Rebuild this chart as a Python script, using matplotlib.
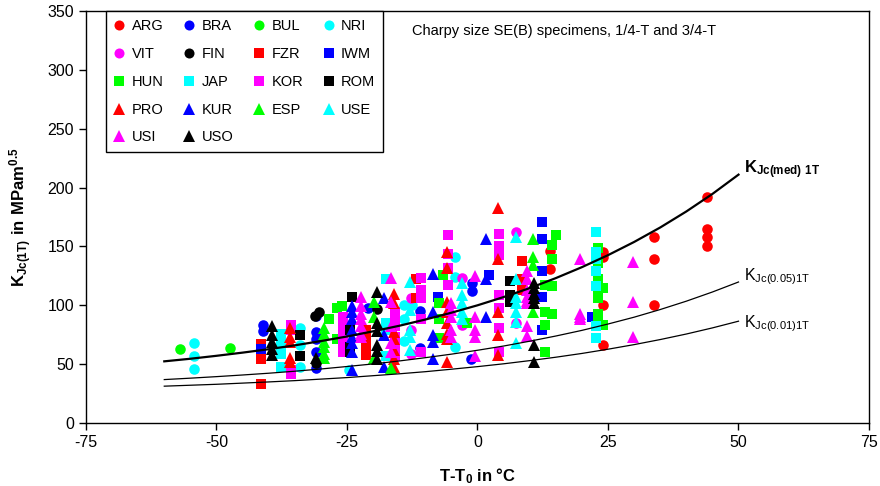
import matplotlib
matplotlib.use("Agg")
import matplotlib.pyplot as plt

plt.rcParams["font.family"] = ["Liberation Sans", "DejaVu Sans"]
plt.rcParams["mathtext.fontset"] = "custom"
plt.rcParams["mathtext.rm"] = "Liberation Sans"
plt.rcParams["mathtext.bf"] = "Liberation Sans:bold"
plt.rcParams["mathtext.default"] = "regular"
plt.rcParams["axes.unicode_minus"] = False

# master curves
curve_t = [-60, -55, -50, -45, -40, -35, -30, -25, -20, -15, -10, -5, 0,
           5, 10, 15, 20, 25, 30, 35, 40, 45, 50]
k_med = [52.4, 54.6, 57.1, 59.8, 62.7, 66.0, 69.6, 73.5, 77.9, 82.6, 87.9, 93.7, 100.0,
         107.0, 114.6, 123.1, 132.4, 142.6, 153.8, 166.1, 179.7, 194.6, 211.0]
k_05 = [36.9, 38.1, 39.4, 40.8, 42.3, 44.0, 45.9, 48.0, 50.2, 52.7, 55.5, 58.5, 61.8,
        65.4, 69.5, 73.9, 78.7, 84.1, 89.9, 96.4, 103.5, 111.3, 119.8]
k_01 = [31.3, 32.1, 32.9, 33.9, 34.9, 36.0, 37.3, 38.6, 40.2, 41.8, 43.6, 45.7, 47.9,
        50.3, 53.0, 55.9, 59.1, 62.7, 66.6, 70.9, 75.6, 80.8, 86.5]

# lab data, T-T0 and KJc(1T)
arg_t = [13.8, 13.8, 24, 24, 24, 24, 33.8, 33.8, 33.8, 44, 44, 44, 44]
arg_k = [146, 131, 145, 141, 100, 66, 158, 139, 100, 192, 165, 158, 150]
bra_t = [-41, -41, -31, -31, -31, -31, -31, -21, -11, -11, -1, -1, -1.2]
bra_k = [83, 78, 91, 77, 71, 60, 47, 98, 95, 64, 119, 112, 54]
bul_t = [-57, -47.5]
bul_k = [63, 64]
nri_t = [-54.4, -54.4, -54.4, -34, -34, -34, -24.6, -14, -14, -14, -12.5, -4.3, -4.3, -4.3]
nri_k = [68, 57, 46, 81, 66, 48, 45, 100, 88, 70, 100, 141, 124, 65]
vit_t = [-12.7, -12.7, -12.7, -2.9, -2.9, 7.3, 7.3]
vit_k = [106, 79, 59, 123, 83, 162, 85]
fin_t = [-30.4, -31.2, -31, -19.2]
fin_k = [94, 91, 51, 97]
fzr_t = [-41.5, -41.5, -41.5, -21.4, -21.4, -21.4, -21.4, -11.7, -11.7, 8.5, 8.5, 8.5]
fzr_k = [67, 54, 33, 79, 71, 65, 58, 122, 106, 138, 122, 113]
iwm_t = [-41.5, -7.5, 2.2, 12.4, 12.4, 12.4, 12.4, 12.4, 22]
iwm_k = [63, 107, 126, 171, 156, 129, 107, 79, 90]
hun_t = [-28.5, -27, -26, -27, -7.3, -7.3, -7.3, -6.7, -2, 13, 13, 13, 13,
         14.2, 14.2, 14.2, 14.2, 15, 23, 23, 23, 23, 23, 23, 23, 23, 24, 24]
hun_k = [88, 98, 99, 71, 102, 88, 72, 126, 85, 117, 94, 83, 60,
         151, 139, 116, 93, 160, 149, 136, 122, 113, 106, 93, 88, 83, 115, 83]
jap_t = [-37.7, -37.7, -37.7, -37.7, -37.7, -17.5, -17.5, -17.5, -17.5,
         22.7, 22.7, 22.7, 22.7, 22.7, 22.7, 22.7, 22.7]
jap_k = [76, 71, 65, 59, 48, 122, 85, 79, 57, 162, 145, 141, 139, 129, 116, 82, 72]
kor_t = [-35.8, -35.8, -35.8, -35.8, -25.8, -25.8, -25.8, -25.8, -25.8, -25.8,
         -15.8, -15.8, -15.8, -15.8, -15.8, -15.8, -10.8, -10.8, -10.8, -10.8, -10.8,
         -5.7, -5.7, -5.7, -5.7, 4.2, 4.2, 4.2, 4.2, 4.2, 4.2, 4.2]
kor_k = [83, 79, 45, 42, 90, 84, 78, 72, 66, 60,
         94, 88, 82, 73, 65, 57, 123, 113, 106, 88, 60,
         160, 144, 132, 117, 161, 150, 143, 109, 98, 81, 60]
rom_t = [-34, -34, -24, -24.5, -24.5, -24.5, 6.2, 6.2, 6.2]
rom_k = [75, 57, 107, 79, 65, 60, 121, 109, 103]
pro_t = [-36, -36, -36, -36, -36, -16, -16, -16, -16, -16, -16, -16,
         -5.8, -5.8, -5.8, -5.8, -5.8, -5.8, -5.8, -5.8, 4, 4, 4, 4, 4]
pro_k = [81, 73, 69, 55, 52, 110, 102, 77, 71, 62, 54, 48,
         145, 132, 103, 94, 85, 76, 71, 52, 183, 139, 94, 75, 58]
kur_t = [-24, -24, -24, -24, -24, -24, -24, -24, -18, -18, -18,
         -8.5, -8.5, -8.5, -8.5, -8.5, 1.7, 1.7, 1.7]
kur_k = [99, 94, 88, 79, 73, 68, 60, 45, 106, 75, 48, 127, 94, 75, 69, 54, 156, 122, 90]
esp_t = [-29.4, -29.4, -29.4, -29.4, -29.4, -29.4, -19.8, -19.8, -19.8, -16.5,
         10.7, 10.7, 10.7, 10.7]
esp_k = [81, 76, 69, 65, 59, 55, 103, 90, 55, 47, 156, 141, 134, 94]
use_t = [-13, -13, -13, -13, -13, -2.9, -2.9, -2.9, -2.9, -2.9,
         7.3, 7.3, 7.3, 7.3, 7.3, 7.3, 7.3]
use_k = [120, 96, 79, 73, 62, 119, 109, 102, 94, 88, 158, 122, 107, 102, 94, 86, 68]
usi_t = [-22.3, -22.3, -22.3, -22.3, -22.3, -22.3, -22.3, -16.5, -16.5, -16.5, -16.5, -16.5,
         -5, -5, -5, -5, -5, -0.5, -0.5, -0.5, -0.5, -0.5,
         9.5, 9.5, 9.5, 9.5, 9.5, 9.5, 9.5, 9.5, 19.6, 19.6, 19.6, 19.6, 29.8, 29.8, 29.8]
usi_k = [107, 99, 93, 88, 82, 76, 73, 123, 103, 82, 68, 60,
         102, 96, 90, 79, 73, 125, 90, 79, 73, 57,
         129, 122, 113, 107, 104, 102, 82, 74, 139, 93, 90, 88, 137, 103, 73]
uso_t = [-39.4, -39.4, -39.4, -39.4, -39.4, -31, -19.2, -19.2, -19.2, -19.2, -19.2, -19.2,
         10.8, 10.8, 10.8, 10.8, 10.8, 10.8, 10.8]
uso_k = [82, 75, 69, 63, 58, 55, 111, 85, 78, 66, 61, 54, 119, 115, 110, 106, 102, 66, 52]

series = [
    ("ARG", arg_t, arg_k, "o", "#ff0000"),
    ("BRA", bra_t, bra_k, "o", "#0000ff"),
    ("BUL", bul_t, bul_k, "o", "#00ff00"),
    ("NRI", nri_t, nri_k, "o", "#00ffff"),
    ("VIT", vit_t, vit_k, "o", "#ff00ff"),
    ("FIN", fin_t, fin_k, "o", "#000000"),
    ("FZR", fzr_t, fzr_k, "s", "#ff0000"),
    ("IWM", iwm_t, iwm_k, "s", "#0000ff"),
    ("HUN", hun_t, hun_k, "s", "#00ff00"),
    ("JAP", jap_t, jap_k, "s", "#00ffff"),
    ("KOR", kor_t, kor_k, "s", "#ff00ff"),
    ("ROM", rom_t, rom_k, "s", "#000000"),
    ("PRO", pro_t, pro_k, "^", "#ff0000"),
    ("KUR", kur_t, kur_k, "^", "#0000ff"),
    ("ESP", esp_t, esp_k, "^", "#00ff00"),
    ("USE", use_t, use_k, "^", "#00ffff"),
    ("USI", usi_t, usi_k, "^", "#ff00ff"),
    ("USO", uso_t, uso_k, "^", "#000000"),
]


def main() -> None:
    fig = plt.figure(figsize=(8.8, 4.86), dpi=100)
    ax = fig.add_axes([0.0977, 0.1296, 0.8898, 0.8477])

    ax.plot(curve_t, k_med, color="black", lw=1.6, zorder=30)
    ax.plot(curve_t, k_05, color="black", lw=0.9, zorder=30)
    ax.plot(curve_t, k_01, color="black", lw=0.9, zorder=30)

    handles = {}
    for z, (name, t, k, marker, color) in enumerate(series):
        size = {"o": 7.6, "s": 7.2, "^": 8.4}[marker]
        (line,) = ax.plot(t, k, linestyle="none", marker=marker, markersize=size,
                          color=color, markeredgewidth=0, label=name, zorder=5 + z)
        handles[name] = line

    # excel fills legend row by row, matplotlib column by column
    order = ["ARG", "VIT", "HUN", "PRO", "USI", "BRA", "FIN", "JAP", "KUR", "USO",
             "BUL", "FZR", "KOR", "ESP", "NRI", "IWM", "ROM", "USE"]
    leg = ax.legend([handles[n] for n in order], order, ncol=4, loc="upper left",
                    bbox_to_anchor=(0.025, 1.0), borderaxespad=0, fontsize=10.5,
                    frameon=True, fancybox=False, edgecolor="black", framealpha=1,
                    handlelength=0.8, handletextpad=0.45, columnspacing=1.35,
                    labelspacing=0.95, borderpad=0.55, markerscale=0.95)
    leg.get_frame().set_linewidth(1.0)
    leg.set_zorder(50)

    ax.text(-12.5, 333, "Charpy size SE(B) specimens, 1/4-T and 3/4-T", fontsize=10.5,
            va="center", ha="left")
    ax.text(51, 215, r"$\mathbf{K_{Jc(med)\ 1T}}$", fontsize=12, va="center", ha="left")
    ax.text(51, 124, r"$K_{Jc(0.05)1T}$", fontsize=11.5, va="center", ha="left")
    ax.text(51, 84, r"$K_{Jc(0.01)1T}$", fontsize=11.5, va="center", ha="left")

    ax.set_xlim(-75, 75)
    ax.set_ylim(0, 350)
    ax.set_xticks(range(-75, 76, 25))
    ax.set_yticks(range(0, 351, 50))
    ax.tick_params(axis="both", direction="out", length=5, width=1, labelsize=11.5)
    for spine in ax.spines.values():
        spine.set_linewidth(1.0)
        spine.set_color("black")

    ax.set_xlabel(r"T-T$_\mathbf{0}$ in °C", fontsize=12, fontweight="bold", labelpad=12)
    ax.set_ylabel(r"$\mathbf{K_{Jc(1T)}\ in\ MPam^{0.5}}$", fontsize=12, labelpad=10)

    fig.savefig("out.png", dpi=100)
    plt.close(fig)


if __name__ == "__main__":
    main()
